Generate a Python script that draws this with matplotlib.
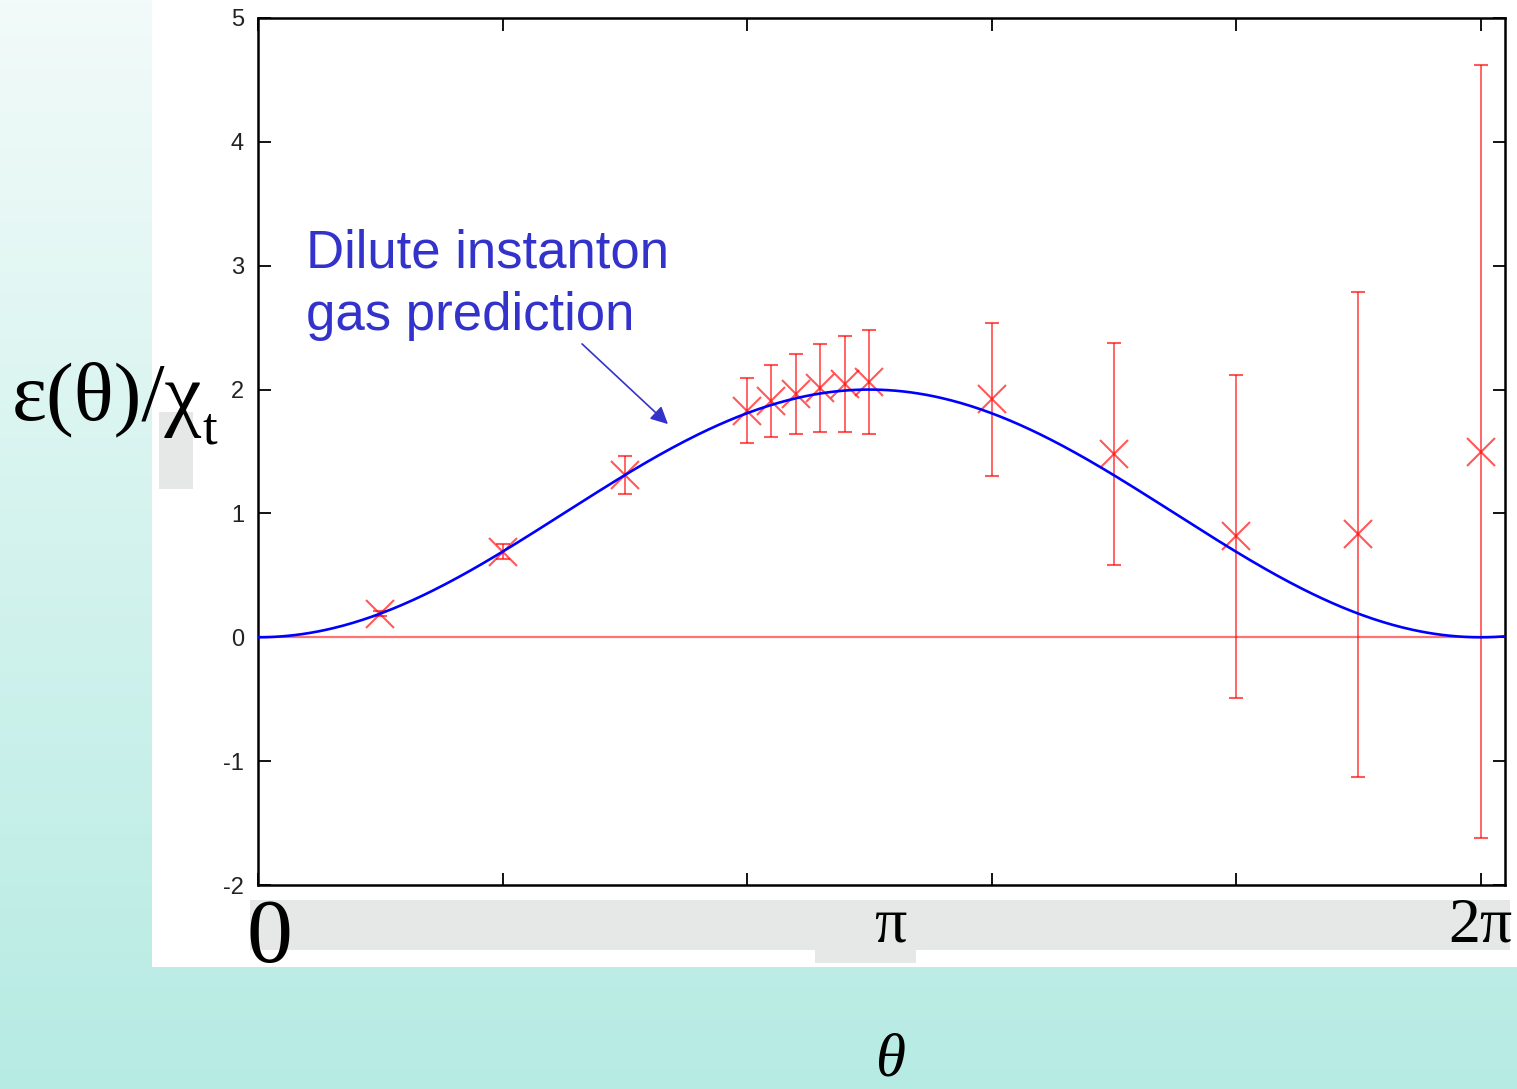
import numpy as np
import matplotlib.pyplot as plt
from matplotlib.patches import Rectangle

# theta in units of pi, vacuum energy density over topological susceptibility
theta_pi = [0.2, 0.4, 0.6, 0.8, 0.84, 0.88, 0.92, 0.96, 1.0, 1.2, 1.4, 1.6, 1.8, 2.0]
eps_chi = [0.19, 0.69, 1.31, 1.83, 1.91, 1.965, 2.015, 2.045, 2.06, 1.92, 1.48, 0.815, 0.83, 1.50]
eps_err = [0.02, 0.06, 0.15, 0.26, 0.29, 0.325, 0.355, 0.385, 0.42, 0.62, 0.90, 1.305, 1.957, 3.12]

y_ticks = [-2, -1, 0, 1, 2, 3, 4, 5]
x_ticks = [0, 0.4, 0.8, 1.2, 1.6, 2.0]

W, H = 1517, 1089


def box(x0, y0, x1, y1):
    # pixel box (top-left origin) -> figure fraction rect
    return [x0 / W, 1 - y1 / H, (x1 - x0) / W, (y1 - y0) / H]


def pt(x, y):
    return x / W, 1 - y / H


fig = plt.figure(figsize=(W / 100, H / 100), dpi=100)

# slide background gradient
bg = fig.add_axes([0, 0, 1, 1], zorder=-2)
grad = np.linspace(0, 1, 256)[:, None]
c_top = np.array([0xf2, 0xfb, 0xf9]) / 255
c_bot = np.array([0xb6, 0xeb, 0xe3]) / 255
img = c_top[None, None, :] * (1 - grad[:, :, None]) + c_bot[None, None, :] * grad[:, :, None]
bg.imshow(img, aspect='auto', extent=[0, 1, 0, 1])
bg.axis('off')

# white panel and grey label backdrops
r = box(152, 0, 1517, 967)
fig.patches.append(Rectangle(r[:2], r[2], r[3], transform=fig.transFigure,
                             facecolor='white', edgecolor='none', zorder=-1))
grey = '#e6e8e7'
for b in [(250, 900, 1510, 950), (815, 950, 916, 963), (159, 412, 193, 489)]:
    r = box(*b)
    fig.patches.append(Rectangle(r[:2], r[2], r[3], transform=fig.transFigure,
                                 facecolor=grey, edgecolor='none', zorder=0.5))

ax = fig.add_axes(box(258, 18, 1505, 885), zorder=2)
ax.set_facecolor('none')

th = np.linspace(0, 2.04, 500)
ax.axhline(0, color='red', alpha=0.55, lw=1.6, zorder=1)
ax.plot(th, 1 - np.cos(np.pi * th), color='#0000ff', lw=1.9, zorder=3)
ax.errorbar(theta_pi, eps_chi, yerr=eps_err, fmt='x', color='red', alpha=0.65,
            ms=20, mew=1.5, elinewidth=1.3, capsize=4.7, capthick=1.3, zorder=2)

ax.set_xlim(0, 2.04)
ax.set_ylim(-2, 5)
ax.set_xticks(x_ticks)
ax.set_yticks(y_ticks)
ax.set_xticklabels([])
ax.set_yticklabels([str(v) for v in y_ticks], family='Liberation Sans')
ax.tick_params(direction='in', length=9, width=1.3, top=True, right=True,
               labelsize=17, labelcolor='#222222', pad=10)
for s in ax.spines.values():
    s.set_linewidth(1.8)

blue = '#3333cc'
ax.annotate('', xy=pt(670, 426), xytext=pt(580, 342), xycoords='figure fraction',
            arrowprops=dict(arrowstyle='-|>', color=blue, lw=1.2, mutation_scale=26))
fig.text(*pt(306, 267), 'Dilute instanton', color=blue,
         fontsize=38, family='Liberation Sans', va='baseline')
fig.text(*pt(306, 330), 'gas prediction', color=blue,
         fontsize=38, family='Liberation Sans', va='baseline')

# big serif axis labels
serif = 'Liberation Serif'
fig.text(*pt(12, 420), 'ε(θ)/χ', fontsize=60, family=serif, va='baseline', zorder=3)
fig.text(*pt(203, 444), 't', fontsize=38, family=serif, va='baseline', zorder=3)
fig.text(*pt(246, 962), '0', fontsize=66, family=serif, va='baseline', zorder=3)
fig.text(*pt(890, 942), 'π', fontsize=46, family=serif, ha='center', va='baseline', zorder=3)
fig.text(*pt(1512, 942), '2π', fontsize=46, family=serif, ha='right', va='baseline', zorder=3)
fig.text(*pt(890, 1075), 'θ', fontsize=44, family=serif, style='italic',
         ha='center', va='baseline', zorder=3)

fig.savefig('out.png', dpi=100)
